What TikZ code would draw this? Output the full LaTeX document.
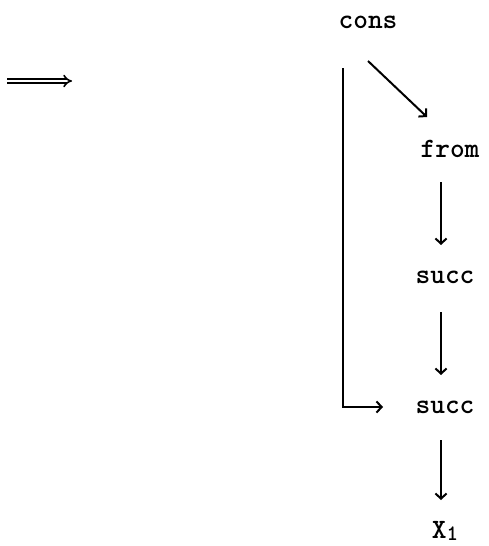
\documentclass[tikz,border=0pt]{standalone}
\usepackage{fontspec}
\usetikzlibrary{arrows.meta,calc}
\tikzset{
  term/.style={font=\ttfamily\bfseries\fontsize{14}{16}\selectfont, inner sep=0pt, anchor=base},
  arr/.style={line width=1pt, -{Straight Barb[length=2.6pt,width=5.6pt]}},
}
\begin{document}
\begin{tikzpicture}[x=0.5pt,y=-0.5pt]
\useasboundingbox (0,0) rectangle (488,546);
% rewrite sign
\coordinate (rl) at (7,81);
\coordinate (rr) at (72,81);
\draw[line width=0.8pt, double distance=1.3pt, -{Implies[length=3pt]}] (rl) -- (rr);
% term nodes
\node[term] (cons)  at (368,28)  {cons};
\node[term] (from)  at (450,157) {from};
\node[term] (succA) at (445,283) {succ};
\node[term] (succB) at (445,413) {succ};
\node[term] (x1)    at (445,538) {X\raisebox{-0.2ex}{\fontsize{11}{12}\selectfont 1}};
% edges
\draw[arr] ($(cons.base)+(0,33)$) -- ($(from.base)+(-23,-40)$);
\draw[arr] ($(from.base)+(-9,25)$) -- ($(succA.base)+(-4,-38)$);
\draw[arr] ($(succA.base)+(-4,29)$) -- ($(succB.base)+(-4,-38)$);
\draw[arr] ($(succB.base)+(-4,27)$) -- ($(x1.base)+(-4,-38)$);
\draw[arr] ($(cons.base)+(-25,40)$) |- ($(succB.base)+(-62,-6)$);
\end{tikzpicture}
\end{document}
